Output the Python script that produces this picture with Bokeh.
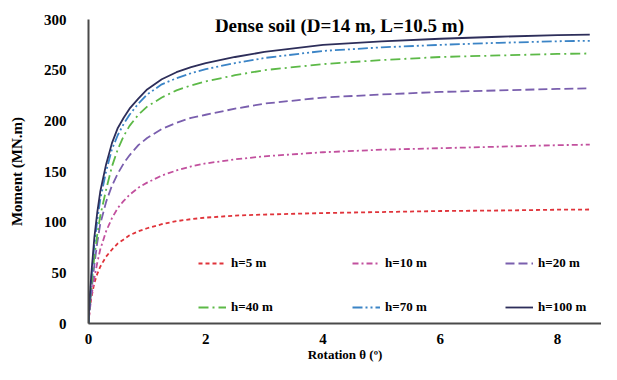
from bokeh.plotting import figure
from bokeh.models import Legend, LegendItem, Range1d, FixedTicker, Label
from bokeh.embed import file_html
from bokeh.resources import INLINE

theta = [0, 0.02, 0.05, 0.1, 0.15, 0.2, 0.3, 0.4, 0.5, 0.6, 0.7, 0.85, 1.0, 1.25, 1.5, 1.75,
         2.0, 2.5, 3.0, 4.0, 5.0, 6.0, 7.0, 8.0, 8.55]
m_h5 = [0, 14, 26, 40, 49, 56, 66, 73, 79, 83, 87, 91, 94, 98, 101, 103,
        104.5, 106.5, 107.5, 109, 110, 111, 111.5, 112.3, 112.5]
m_h10 = [0, 12, 27, 45, 60, 73, 91, 104, 114, 121, 127, 134, 139, 146, 151, 155,
         158, 162, 165, 169, 171.5, 173, 174.5, 176, 176.5]
m_h20 = [0, 14, 32, 58, 80, 98, 120, 136, 148, 158, 166, 176, 183, 192, 198, 203,
         206, 212, 217, 223, 226, 228.5, 230, 231.5, 232]
m_h40 = [0, 18, 38, 66, 88, 106, 132, 155, 172, 185, 195, 206, 214, 223, 230, 235,
         239, 245, 250, 256, 260, 263, 264.5, 266, 266.5]
m_h70 = [0, 22, 45, 78, 102, 122, 150, 172, 186, 197, 206, 217, 226, 236, 242, 247,
         251, 257, 262, 269, 272.5, 275, 277, 278.5, 279]
m_h100 = [0, 25, 50, 85, 110, 130, 157, 178, 193, 203, 212, 222, 231, 241, 248, 253,
          257, 263, 268, 275, 278.5, 281, 283, 284.5, 285]

labels = ["h=5 m", "h=10 m", "h=20 m", "h=40 m", "h=70 m", "h=100 m"]
series = [m_h5, m_h10, m_h20, m_h40, m_h70, m_h100]
colors = ["#e0333a", "#c2509e", "#7a5fae", "#5cb947", "#3b84c6", "#2d2e5a"]
dashes = ["4 3", "6 3 2 3", "9 4", "10 4 2 4", "10 3 2 3 2 3", "solid"]

x_ticks = [0, 2, 4, 6, 8]
y_ticks = [0, 50, 100, 150, 200, 250, 300]

p = figure(width=601, height=364, output_backend="svg", toolbar_location=None,
           x_range=Range1d(0, 8.75), y_range=Range1d(0, 300),
           min_border_left=88, min_border_right=0, min_border_top=19, min_border_bottom=33)
p.outline_line_color = None
p.xgrid.visible = False
p.ygrid.visible = False
p.background_fill_color = "white"
p.border_fill_color = "white"

renderers = []
for ys, c, d in zip(series, colors, dashes):
    r = p.line(theta, ys, line_color=c, line_width=1.8, line_dash=d)
    renderers.append(r)

font = "Liberation Serif"
for ax in (p.xaxis[0], p.yaxis[0]):
    ax.axis_line_color = "#4a4a4a"
    ax.axis_line_width = 2
    ax.major_tick_line_color = None
    ax.minor_tick_line_color = None
    ax.major_label_text_font = font
    ax.major_label_text_font_style = "bold"
    ax.major_label_text_font_size = "15px"
    ax.major_label_text_color = "black"
    ax.axis_label_text_font = font
    ax.axis_label_text_font_style = "bold"
    ax.axis_label_text_color = "black"

p.xaxis[0].ticker = FixedTicker(ticks=x_ticks)
p.yaxis[0].ticker = FixedTicker(ticks=y_ticks)
p.xaxis[0].major_label_standoff = 4
p.yaxis[0].major_label_standoff = 16
p.xaxis[0].axis_label = "Rotation θ (º)"
p.xaxis[0].axis_label_text_font_size = "13px"
p.xaxis[0].axis_label_standoff = 0
p.yaxis[0].axis_label = "Moment (MN.m)"
p.yaxis[0].axis_label_text_font_size = "15px"
p.yaxis[0].axis_label_standoff = 16

title = Label(x=4.28, y=294, text="Dense soil (D=14 m, L=10.5 m)", text_font=font,
              text_font_style="bold", text_font_size="19px", text_align="center",
              text_baseline="middle", text_color="black")
p.add_layout(title)

col_x = [110, 264, 417]
for ci in range(3):
    its = [LegendItem(label=labels[ci], renderers=[renderers[ci]]),
           LegendItem(label=labels[ci + 3], renderers=[renderers[ci + 3]])]
    lg = Legend(items=its, orientation="vertical", location=(col_x[ci], 8),
                glyph_width=28, glyph_height=12, label_height=12, label_standoff=5,
                spacing=28, padding=0, margin=0,
                label_text_font=font, label_text_font_style="bold",
                label_text_font_size="13px", label_text_color="black",
                background_fill_alpha=0, border_line_color=None)
    p.add_layout(lg)

open("out.html", "w").write(file_html(p, INLINE))
